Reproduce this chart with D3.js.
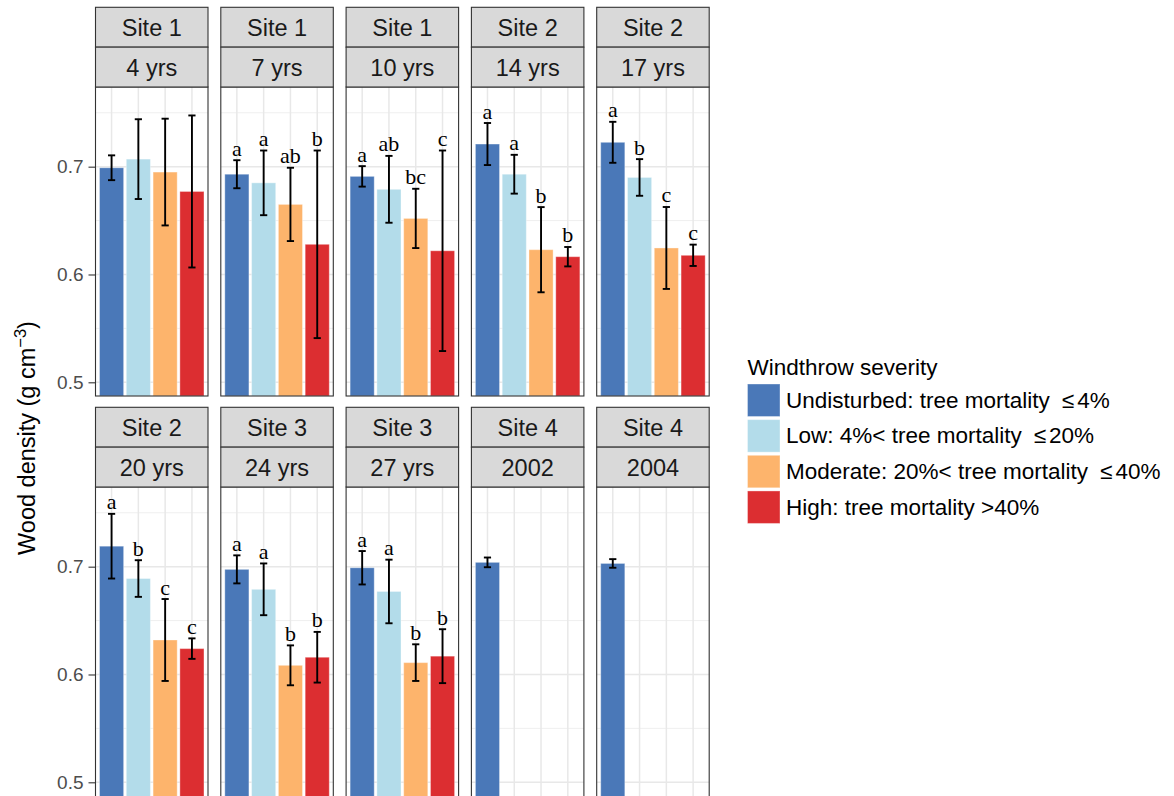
<!DOCTYPE html>
<html>
<head>
<meta charset="utf-8">
<script src="https://cdn.jsdelivr.net/npm/d3@7"></script>
<style>
  html, body { margin: 0; padding: 0; background: #ffffff; }
  svg { display: block; }
</style>
</head>
<body>
<div id="chart"></div>
<script>
// Facet labels (two strip rows per panel)
const siteLabels   = ["Site 1", "Site 1", "Site 1", "Site 2", "Site 2", "Site 2", "Site 3", "Site 3", "Site 4", "Site 4"];
const periodLabels = ["4 yrs", "7 yrs", "10 yrs", "14 yrs", "17 yrs", "20 yrs", "24 yrs", "27 yrs", "2002", "2004"];

// Windthrow severity classes
const severityKeys = ["Undisturbed", "Low", "Moderate", "High"];
const severityColors = ["#4a78b8", "#b3dcea", "#fdb46c", "#dc2e31"];

// Mean wood density (g cm-3) per panel, one array per severity class
const meanUndisturbed = [0.699, 0.693, 0.691, 0.721, 0.7226, 0.719, 0.6975, 0.699, 0.704, 0.703];
const meanLow         = [0.707, 0.685, 0.679, 0.693, 0.690, 0.689, 0.679, 0.677, null, null];
const meanModerate    = [0.695, 0.665, 0.652, 0.623, 0.6246, 0.632, 0.6085, 0.611, null, null];
const meanHigh        = [0.677, 0.628, 0.622, 0.6165, 0.6178, 0.624, 0.616, 0.617, null, null];

// Error bar half-widths
const errUndisturbed = [0.0115, 0.013, 0.0095, 0.0195, 0.019, 0.030, 0.013, 0.0155, 0.0045, 0.004];
const errLow         = [0.037, 0.030, 0.031, 0.018, 0.017, 0.017, 0.024, 0.0295, null, null];
const errModerate    = [0.0495, 0.034, 0.0275, 0.0395, 0.038, 0.038, 0.0185, 0.017, null, null];
const errHigh        = [0.0705, 0.087, 0.093, 0.009, 0.0099, 0.0095, 0.0235, 0.025, null, null];

// Significance letters
const letUndisturbed = ["", "a", "a", "a", "a", "a", "a", "a", "", ""];
const letLow         = ["", "a", "ab", "a", "b", "b", "a", "a", "", ""];
const letModerate    = ["", "ab", "bc", "b", "c", "c", "b", "b", "", ""];
const letHigh        = ["", "b", "c", "b", "c", "c", "b", "b", "", ""];

const yTicks = [0.5, 0.6, 0.7];
const yMinor = [0.55, 0.65, 0.75];

const legendTitle = "Windthrow severity";
const legendLabels = [
  ["Undisturbed: tree mortality", "\u2264", "4%"],
  ["Low: 4%< tree mortality", "\u2264", "20%"],
  ["Moderate: 20%< tree mortality", "\u2264", "40%"],
  ["High: tree mortality >40%", null, null]
];

const means   = [meanUndisturbed, meanLow, meanModerate, meanHigh];
const errs    = [errUndisturbed, errLow, errModerate, errHigh];
const letters = [letUndisturbed, letLow, letModerate, letHigh];

// Layout
const W = 1174, H = 796;
const nCols = 5;
const panelLeft0 = 95.5, panelStep = 125.3, panelW = 112.5;
const rowTop = [7.3, 407.3];
const stripH = 39.85;
const panelH = 309;

const svg = d3.select("#chart").append("svg")
  .attr("width", W).attr("height", H)
  .style("font-family", "'Liberation Sans', Arial, Helvetica, sans-serif");

const x = d3.scaleBand().domain(severityKeys).range([0, panelW])
  .paddingInner(0.1).paddingOuter(0.15);

siteLabels.forEach((site, p) => {
  const col = p % nCols, row = Math.floor(p / nCols);
  const left = panelLeft0 + col * panelStep;
  const top = rowTop[row] + 2 * stripH;
  const bottom = top + panelH;
  const y = d3.scaleLinear().domain([0.4873, 0.7739]).range([bottom, top]);

  const g = svg.append("g").attr("transform", `translate(${left},0)`);

  // panel background and grid
  g.append("rect").attr("x", 0).attr("y", top).attr("width", panelW)
    .attr("height", row === 1 ? panelH + 20 : panelH).attr("fill", "#fff");
  g.selectAll(".minor").data(yMinor).join("line")
    .attr("x1", 0).attr("x2", panelW)
    .attr("y1", d => y(d)).attr("y2", d => y(d))
    .attr("stroke", "#ebebeb").attr("stroke-width", 0.8);
  g.selectAll(".major").data(yTicks).join("line")
    .attr("x1", 0).attr("x2", panelW)
    .attr("y1", d => y(d)).attr("y2", d => y(d))
    .attr("stroke", "#e8e8e8").attr("stroke-width", 1.5);
  g.selectAll(".vgrid").data(severityKeys).join("line")
    .attr("x1", d => x(d) + x.bandwidth() / 2).attr("x2", d => x(d) + x.bandwidth() / 2)
    .attr("y1", top).attr("y2", row === 1 ? H + 10 : bottom)
    .attr("stroke", "#e8e8e8").attr("stroke-width", 1.5);

  // bars, error bars and letters
  const recs = severityKeys.map((k, i) => ({
    k, i, mean: means[i][p], err: errs[i][p], letter: letters[i][p]
  })).filter(d => d.mean != null);

  g.selectAll(".bar").data(recs).join("rect")
    .attr("x", d => x(d.k)).attr("width", x.bandwidth())
    .attr("y", d => y(d.mean)).attr("height", d => y(0.4873) - y(d.mean) + (row === 1 ? 10 : 0))
    .attr("fill", d => severityColors[d.i])
    .attr("stroke", "#ffffff").attr("stroke-opacity", 0.35).attr("stroke-width", 1);

  const cap = 3.6;
  recs.forEach(d => {
    const cx = x(d.k) + x.bandwidth() / 2;
    const y1 = y(d.mean + d.err), y2 = y(d.mean - d.err);
    g.append("line").attr("x1", cx).attr("x2", cx).attr("y1", y1).attr("y2", y2)
      .attr("stroke", "#000").attr("stroke-width", 1.9);
    [y1, y2].forEach(yy => g.append("line")
      .attr("x1", cx - cap).attr("x2", cx + cap).attr("y1", yy).attr("y2", yy)
      .attr("stroke", "#000").attr("stroke-width", 1.9));
    if (d.letter) {
      g.append("text").attr("x", cx).attr("y", y1 - 4.5)
        .attr("text-anchor", "middle")
        .style("font-family", "'Liberation Serif', 'Times New Roman', serif")
        .style("font-size", "22px").attr("fill", "#000")
        .text(d.letter);
    }
  });

  // panel border
  g.append("rect").attr("x", 0).attr("y", top).attr("width", panelW)
    .attr("height", row === 1 ? panelH + 20 : panelH)
    .attr("fill", "none").attr("stroke", "#333333").attr("stroke-width", 1.1);

  // strips
  [site, periodLabels[p]].forEach((lab, s) => {
    const sy = rowTop[row] + s * stripH;
    g.append("rect").attr("x", 0).attr("y", sy).attr("width", panelW).attr("height", stripH)
      .attr("fill", "#d9d9d9").attr("stroke", "#333333").attr("stroke-width", 1.1);
    g.append("text").attr("x", panelW / 2).attr("y", sy + stripH / 2 + 8.6)
      .attr("text-anchor", "middle").style("font-size", "23.5px").attr("fill", "#1a1a1a")
      .text(lab);
  });

  // y axis on the first column
  if (col === 0) {
    const ax = svg.append("g").attr("transform", `translate(${left},0)`)
      .call(d3.axisLeft(y).tickValues(yTicks).tickFormat(d3.format(".1f"))
        .tickSize(7).tickPadding(5));
    ax.select(".domain").remove();
    ax.selectAll(".tick line").attr("stroke", "#333333").attr("stroke-width", 1.1);
    ax.selectAll(".tick text").attr("fill", "#4d4d4d")
      .style("font-size", "19px").style("font-family", "'Liberation Sans', Arial, sans-serif");
  }
});

// y axis title
const yt = svg.append("text")
  .attr("transform", "translate(35,438) rotate(-90)")
  .attr("text-anchor", "middle").style("font-size", "23.5px").attr("fill", "#000");
yt.append("tspan").text("Wood density (g cm");
yt.append("tspan").attr("dy", -9).style("font-size", "16.5px").text("\u22123");
yt.append("tspan").attr("dy", 9).text(")");

// legend
const lg = svg.append("g").attr("transform", "translate(747.5,0)");
lg.append("text").attr("x", 0).attr("y", 375).style("font-size", "22.5px").attr("fill", "#000")
  .text(legendTitle);
legendLabels.forEach((lab, i) => {
  const ky = 384 + i * 35.65;
  lg.append("rect").attr("x", 0).attr("y", ky).attr("width", 32.5).attr("height", 32.5)
    .attr("fill", severityColors[i])
    .attr("stroke", "#ffffff").attr("stroke-opacity", 0.35).attr("stroke-width", 1);
  const t = lg.append("text").attr("x", 38.5).attr("y", ky + 16.25 + 7.5)
    .style("font-size", "22.5px").attr("fill", "#000");
  t.append("tspan").text(lab[0]);
  if (lab[1]) {
    t.append("tspan").attr("dx", 12).text(lab[1]);
    t.append("tspan").attr("dx", 3).text(lab[2]);
  }
});
</script>
</body>
</html>
